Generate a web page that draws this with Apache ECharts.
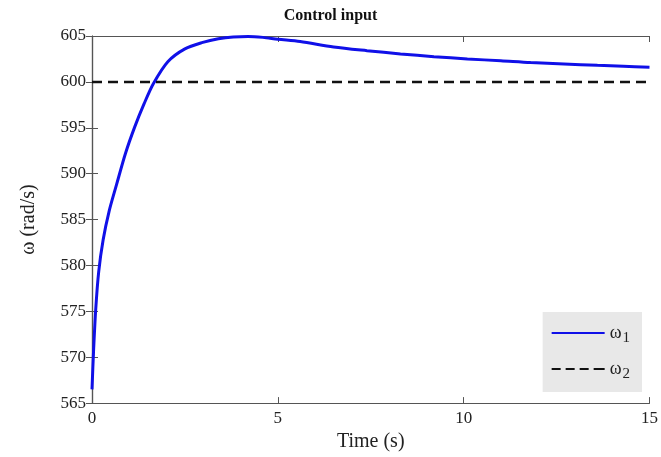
<!DOCTYPE html>
<html>
<head>
<meta charset="utf-8">
<script src="https://cdn.jsdelivr.net/npm/echarts@6/dist/echarts.min.js"></script>
<style>
  html, body { margin: 0; padding: 0; background: #fff; }
  #chart { width: 661px; height: 457px; }
</style>
</head>
<body>
<div id="chart"></div>
<script>
// omega_1
var time = [0, 0.04, 0.1, 0.18, 0.3, 0.46, 0.66, 0.9, 1.15, 1.4, 1.65, 2.04, 2.5, 2.98, 3.4, 3.8, 4.2, 4.6, 5.0, 5.6, 6.5, 7.4, 8.3, 9.2, 10.1, 11, 11.8, 12.7, 13.6, 14.3, 15];
var omega1 = [566.5, 570.5, 575.2, 579.3, 582.8, 585.9, 588.8, 592.2, 595.1, 597.6, 599.8, 602.2, 603.6, 604.3, 604.7, 604.9, 604.95, 604.85, 604.65, 604.4, 603.8, 603.4, 603.05, 602.75, 602.5, 602.3, 602.1, 601.95, 601.8, 601.7, 601.6];
var omega2 = [[0, 600], [15, 600]];
var xTicks = [0, 5, 10, 15];
var yTicks = [565, 570, 575, 580, 585, 590, 595, 600, 605];

var chart = echarts.init(document.getElementById('chart'));
var font = 'Liberation Serif';

var line1 = time.map(function (t, i) { return [t, omega1[i]]; });

var option = {
  animation: false,
  title: {
    text: 'Control input',
    left: 'center',
    top: 3,
    textStyle: { fontFamily: font, fontWeight: 'bold', fontSize: 16, color: '#111' }
  },
  grid: { left: 92, right: 10, top: 36, bottom: 53 },
  legend: {
    orient: 'vertical',
    right: 19,
    bottom: 65,
    padding: [12, 12, 10, 9],
    itemGap: 14,
    itemWidth: 53,
    itemHeight: 10,
    backgroundColor: '#e8e8e8',
    data: [
      { name: 'w1', icon: 'path://M0,4L53,4L53,6L0,6Z' },
      { name: 'w2', icon: 'path://M0,4L9,4L9,6L0,6ZM14,4L23,4L23,6L14,6ZM28,4L37,4L37,6L28,6ZM42,4L53,4L53,6L42,6Z' }
    ],
    formatter: function (name) {
      return name === 'w1' ? '{a|ω}{b|1}' : '{a|ω}{b|2}';
    },
    textStyle: {
      fontFamily: font,
      color: '#222',
      rich: {
        a: { fontFamily: font, fontSize: 18, color: '#222' },
        b: { fontFamily: font, fontSize: 15, color: '#222', padding: [11, 0, 0, 1] }
      }
    }
  },
  xAxis: [
    {
      type: 'value',
      min: 0, max: 15, interval: 5,
      name: 'Time (s)',
      nameLocation: 'middle',
      nameGap: 26,
      nameTextStyle: { fontFamily: font, fontSize: 20, color: '#222' },
      axisLine: { show: true, lineStyle: { color: '#555', width: 1.2 } },
      axisTick: { inside: true, length: 6, lineStyle: { color: '#555' } },
      axisLabel: { fontFamily: font, fontSize: 17, color: '#222', margin: 7 },
      splitLine: { show: false }
    },
    {
      type: 'value',
      position: 'top',
      min: 0, max: 15, interval: 5,
      axisLine: { show: true, lineStyle: { color: '#555', width: 1.2 } },
      axisTick: { inside: true, length: 6, lineStyle: { color: '#555' } },
      axisLabel: { show: false },
      splitLine: { show: false }
    }
  ],
  yAxis: [
    {
      type: 'value',
      min: 565, max: 605, interval: 5,
      name: 'ω (rad/s)',
      nameLocation: 'middle',
      nameGap: 53,
      nameTextStyle: { fontFamily: font, fontSize: 20, color: '#222' },
      axisLine: { show: true, lineStyle: { color: '#555', width: 1.2 } },
      axisTick: { inside: true, length: 6, lineStyle: { color: '#555' } },
      axisLabel: { fontFamily: font, fontSize: 17, color: '#222', margin: 6 },
      splitLine: { show: false }
    },
    {
      type: 'value',
      position: 'right',
      min: 565, max: 605, interval: 5,
      axisLine: { show: true, lineStyle: { color: '#555', width: 1.2 } },
      axisTick: { inside: true, length: 6, lineStyle: { color: '#555' } },
      axisLabel: { show: false },
      splitLine: { show: false }
    }
  ],
  series: [
    {
      name: 'w1',
      type: 'line',
      data: line1,
      smooth: 0.3,
      showSymbol: false,
      color: '#1010e8',
      lineStyle: { color: '#1010e8', width: 3 }
    },
    {
      name: 'w2',
      type: 'line',
      data: omega2,
      showSymbol: false,
      color: '#111',
      lineStyle: { color: '#111', width: 2.5, type: [10, 6] }
    }
  ]
};
chart.setOption(option);
</script>
</body>
</html>
